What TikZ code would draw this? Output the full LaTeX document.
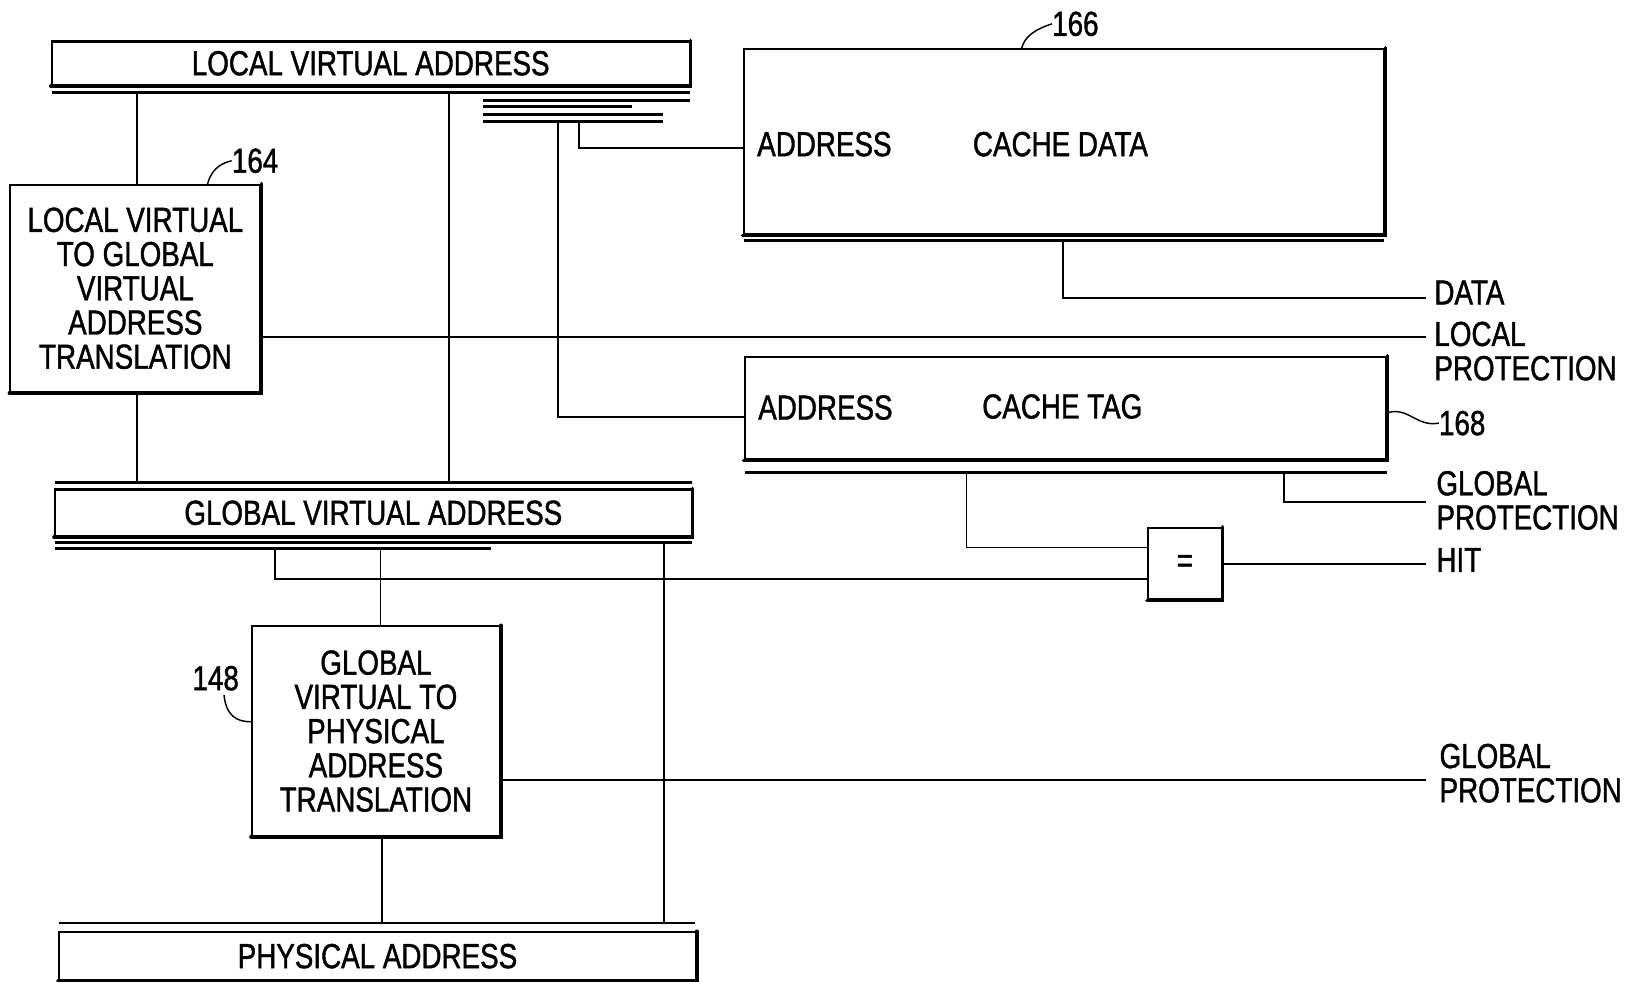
\documentclass[tikz,border=0pt]{standalone}
\usepackage{fontspec}
\newfontfamily\pf[FakeStretch=0.8,FakeBold=1.2]{Liberation Sans}
\usetikzlibrary{calc}
\begin{document}
\begin{tikzpicture}[x=1pt,y=-1pt,
  txt/.style={font=\pf\fontsize{33.5}{33}\selectfont, inner sep=0pt},
  box/.style={txt, draw, line width=2pt, align=center},
  wire/.style={line width=1.7pt},
  busline/.style={line width=2.8pt},
  shade/.style={line width=3.4pt, line cap=round},
  leader/.style={line width=1.4pt}]
\useasboundingbox (0,0) rectangle (1567,946);

% ---- boxes ----
\node[box, minimum width=615pt, minimum height=42pt] (lva) at (357.5,61) {LOCAL VIRTUAL ADDRESS};
\node[box, minimum width=614pt, minimum height=45pt] (gva) at (360,494.5) {GLOBAL VIRTUAL ADDRESS};
\node[box, minimum width=614pt, minimum height=46pt] (pa) at (364,922) {PHYSICAL ADDRESS};
\node[box, minimum width=241pt, minimum height=200pt] (lvg) at (130.5,278)
  {LOCAL VIRTUAL\\TO GLOBAL\\VIRTUAL\\ADDRESS\\TRANSLATION};
\node[box, minimum width=239pt, minimum height=202pt] (gvp) at (362.5,705)
  {GLOBAL\\VIRTUAL TO\\PHYSICAL\\ADDRESS\\TRANSLATION};
\node[box, minimum width=618pt, minimum height=179pt] (cdata) at (1026,136.5) {};
\node[box, minimum width=619pt, minimum height=99pt] (ctag) at (1027.5,393.5) {};
\node[box, minimum width=71pt, minimum height=69pt] (eq) at (1142.5,543.5) {=};

\foreach \b in {lva,gva,pa,lvg,gvp,cdata,ctag,eq}
  \draw[shade] (\b.south west) -- (\b.south east) -- (\b.north east);

% texts inside cache boxes
\node[txt, anchor=west] (cdaddr) at (730,139) {ADDRESS};
\node[txt, anchor=west] (cdname) at (938,139) {CACHE DATA};
\node[txt, anchor=west] (ctaddr) at (731,393) {ADDRESS};
\node[txt, anchor=west] (ctname) at (947,392) {CACHE TAG};

% ---- bus lines ----
\coordinate (l0a) at (50,89);   \coordinate (l0b) at (665,89);
\coordinate (l1a) at (466,97);  \coordinate (l1b) at (665,97);
\coordinate (l2a) at (466,103); \coordinate (l2b) at (609,103);
\coordinate (l3a) at (466,110); \coordinate (l3b) at (639,110);
\coordinate (l4a) at (466,117); \coordinate (l4b) at (639,117);
\coordinate (g0a) at (53,465);  \coordinate (g0b) at (667,465);
\coordinate (g1a) at (53,523);  \coordinate (g1b) at (667,523);
\coordinate (g2a) at (53,529);  \coordinate (g2b) at (473,529);
\coordinate (p0a) at (57,890);  \coordinate (p0b) at (670,890);
\coordinate (d0a) at (717,232); \coordinate (d0b) at (1335,232);
\coordinate (c0a) at (718,456); \coordinate (c0b) at (1337,456);
\foreach \a/\b in {l0a/l0b,l1a/l1b,l2a/l2b,l3a/l3b,l4a/l4b,g0a/g0b,g1a/g1b,g2a/g2b,p0a/p0b,d0a/d0b,c0a/c0b}
  \draw[busline] (\a) -- (\b);

% ---- tap points ----
\coordinate (tlv1) at (132,89);
\coordinate (tlv2) at (433,89);
\coordinate (tlv3) at (538,117);
\coordinate (tlv4) at (558,117);
\coordinate (tgv1) at (265,529);
\coordinate (tgv2) at (367,529);
\coordinate (tgv3) at (640,523);
\coordinate (tcd) at (1025,232);
\coordinate (tct1) at (932,456);
\coordinate (tct2) at (1238,456);
\coordinate (gvs) at ($(gvp.south)+(5.5,0)$);

% ---- right-hand outputs ----
\coordinate (odata) at (1375,287);
\coordinate (olp) at (1375,325);
\coordinate (ogp1) at (1375,484);
\coordinate (ohit) at (1375,543.5);
\coordinate (ogp2) at (1375,752);

\node[txt, anchor=west] (tdata) at (1383,282) {DATA};
\node[txt, anchor=north west, align=left] (tlp) at (1383,310) {LOCAL\\PROTECTION};
\node[txt, anchor=north west, align=left] (tgp1) at (1385,454) {GLOBAL\\PROTECTION};
\node[txt, anchor=west] (thit) at (1385,540) {HIT};
\node[txt, anchor=north west, align=left] (tgp2) at (1388,717) {GLOBAL\\PROTECTION};

% ---- connectors ----
\draw[wire] (tlv1) -- (tlv1 |- lvg.north);
\draw[wire] (tlv2) -- (tlv2 |- g0a);
\draw[wire] (tlv3) |- ($(ctag.west)+(0,8.5)$);
\draw[wire] (tlv4) |- ($(cdata.west)+(0,6.5)$);
\draw[wire] (tlv1 |- lvg.south) -- (tlv1 |- g0a);
\draw[wire] (lvg.east |- olp) -- (olp);

\draw[wire] (tgv1) |- ($(eq.west)+(0,14.5)$);
\draw[wire] (tgv2) -- (tgv2 |- gvp.north);
\draw[wire] (tgv3) -- (tgv3 |- p0a);
\draw[wire] (gvp.east |- ogp2) -- (ogp2);
\draw[wire] (gvs) -- (gvs |- p0a);

\draw[wire] (tcd) |- (odata);
\draw[wire] (tct1) |- ($(eq.west)+(0,-15.5)$);
\draw[wire] (tct2) |- (ogp1);
\draw[wire] (eq.east) -- (ohit);

% ---- reference numerals ----
\node[txt] (n164) at (246,155) {164};
\node[txt] (n166) at (1037,23) {166};
\node[txt] (n168) at (1410,408) {168};
\node[txt] (n148) at (208,654) {148};
\draw[leader] (200,178) .. controls (203,166) and (210,158) .. (n164.west);
\draw[leader] (985,47) .. controls (988,36) and (996,29) .. (n166.west);
\draw[leader] (ctag.east |- n168) ++(0,-10) .. controls (1358,392) and (1366,412) .. (n168.west);
\draw[leader] (n148.south) ++(8,4) .. controls (218,690) and (228,696) .. (gvp.west |- 0,696);
\end{tikzpicture}
\end{document}
